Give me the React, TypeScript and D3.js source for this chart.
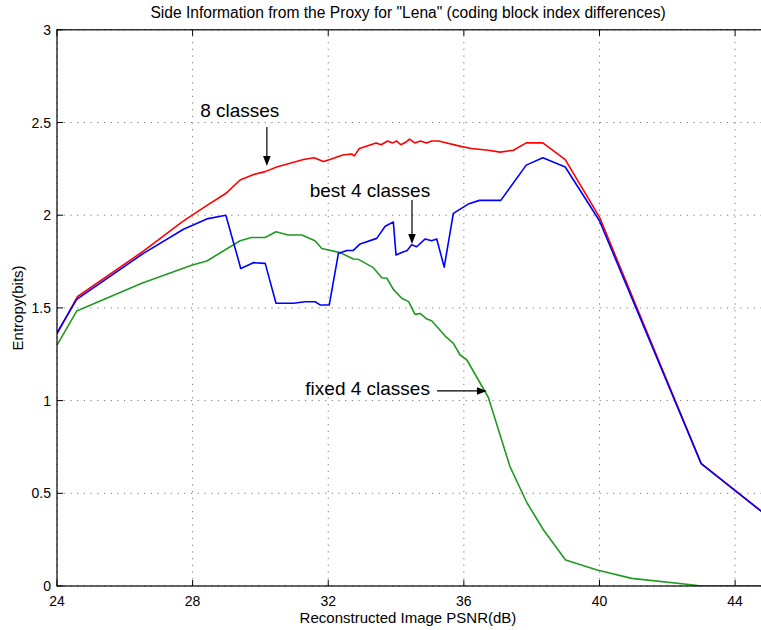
import React, { useEffect } from "react";
import * as d3 from "d3";

const W = 761;
const H = 630;

const xTicks = [24, 28, 32, 36, 40, 44];
const yTicks = [0, 0.5, 1, 1.5, 2, 2.5, 3];
const yTickLabels = ["0", "0.5", "1", "1.5", "2", "2.5", "3"];

const redX = [24, 24.6, 26.5, 27.7, 28.4, 29.0, 29.4, 29.8, 30.14, 30.48, 31.27, 31.58, 31.86, 32.05, 32.43, 32.69, 32.77, 32.92, 33.41, 33.56, 33.75, 33.9, 34.02, 34.14, 34.3, 34.4, 34.55, 34.72, 34.9, 35.05, 35.25, 35.94, 36.23, 36.72, 37.07, 37.46, 37.84, 38.33, 38.99, 40.0, 43.0, 45];
const redY = [1.36, 1.56, 1.8, 1.965, 2.05, 2.12, 2.19, 2.22, 2.235, 2.26, 2.3, 2.31, 2.29, 2.3, 2.325, 2.33, 2.32, 2.36, 2.39, 2.38, 2.4, 2.39, 2.4, 2.38, 2.395, 2.41, 2.39, 2.4, 2.39, 2.4, 2.4, 2.37, 2.36, 2.35, 2.34, 2.35, 2.39, 2.39, 2.3, 1.99, 0.66, 0.37];

const blueX = [24, 24.58, 26.55, 27.73, 28.42, 28.98, 29.42, 29.79, 30.14, 30.46, 30.97, 31.32, 31.61, 31.76, 32.03, 32.3, 32.55, 32.74, 32.94, 33.43, 33.68, 33.92, 34.0, 34.22, 34.32, 34.46, 34.61, 34.86, 35.05, 35.2, 35.42, 35.69, 36.13, 36.46, 37.09, 37.84, 38.33, 38.99, 40.0, 43.0, 45];
const blueY = [1.366, 1.546, 1.794, 1.924, 1.98, 2.0, 1.713, 1.744, 1.74, 1.525, 1.525, 1.533, 1.533, 1.516, 1.516, 1.794, 1.81, 1.81, 1.845, 1.875, 1.94, 1.963, 1.785, 1.803, 1.808, 1.84, 1.83, 1.872, 1.862, 1.872, 1.72, 2.01, 2.06, 2.08, 2.08, 2.27, 2.31, 2.26, 1.97, 0.66, 0.37];

const greenX = [24, 24.58, 26.5, 27.97, 28.42, 29.4, 29.74, 30.14, 30.46, 30.82, 31.22, 31.61, 31.81, 32.35, 32.74, 32.89, 33.33, 33.58, 33.73, 33.92, 34.17, 34.37, 34.56, 34.71, 34.91, 35.05, 35.45, 35.69, 35.89, 36.09, 36.72, 37.36, 37.86, 38.35, 39.0, 39.93, 40.95, 42.77, 43.0, 45];
const greenY = [1.3, 1.483, 1.633, 1.73, 1.753, 1.862, 1.88, 1.88, 1.911, 1.893, 1.893, 1.862, 1.82, 1.798, 1.764, 1.762, 1.717, 1.663, 1.66, 1.6, 1.552, 1.534, 1.465, 1.47, 1.44, 1.431, 1.348, 1.309, 1.246, 1.219, 1.018, 0.644, 0.449, 0.302, 0.14, 0.086, 0.041, 0.005, 0, 0];

const seriesColors = ["#ff0000", "#0000ff", "#229922"];

const annotations = [
  { text: "8 classes", tx: 29.39, ty: 2.567, ax0: 30.19, ay0: 2.476, ax1: 30.19, ay1: 2.265, anchor: "middle" },
  { text: "best 4 classes", tx: 33.23, ty: 2.136, ax0: 34.47, ay0: 2.082, ax1: 34.47, ay1: 1.845, anchor: "middle" },
  { text: "fixed 4 classes", tx: 35.0, ty: 1.068, ax0: 35.21, ay0: 1.052, ax1: 36.68, ay1: 1.052, anchor: "end" },
];

const FONT = "'Liberation Sans', Arial, Helvetica, sans-serif";

export default function App() {
  useEffect(() => {
    document.body.style.margin = "0";
  }, []);

  const left = 57;
  const right = 769;
  const top = 29.8;
  const bottom = 586;
  const x = d3.scaleLinear().domain([24, 45]).range([left, right]);
  const y = d3.scaleLinear().domain([0, 3]).range([bottom, top]);

  const line = d3
    .line<[number, number]>()
    .x((d) => x(d[0]))
    .y((d) => y(d[1]));

  const series = [
    { xs: redX, ys: redY },
    { xs: blueX, ys: blueY },
    { xs: greenX, ys: greenY },
  ];
  const order = [2, 0, 1];

  const tickLen = 6;

  const arrowHead = (x0: number, y0: number, x1: number, y1: number) => {
    const ang = Math.atan2(y1 - y0, x1 - x0);
    const L = 10;
    const Wd = 3.8;
    const bx = x1 - L * Math.cos(ang);
    const by = y1 - L * Math.sin(ang);
    const px = -Math.sin(ang) * Wd;
    const py = Math.cos(ang) * Wd;
    return `${x1},${y1} ${bx + px},${by + py} ${bx - px},${by - py}`;
  };

  return (
    <svg width={W} height={H} style={{ display: "block", background: "#fff" }} fontFamily={FONT}>
      <defs>
        <clipPath id="plotClip">
          <rect x={left} y={top} width={right - left} height={bottom - top} />
        </clipPath>
      </defs>
      <rect x={0} y={0} width={W} height={H} fill="#fff" />
      {/* grid */}
      <g stroke="#777" strokeWidth={1} strokeDasharray="1.2,5.5">
        {xTicks.map((t) => (
          <line key={"gx" + t} x1={x(t)} x2={x(t)} y1={bottom} y2={top} />
        ))}
        {yTicks.map((t) => (
          <line key={"gy" + t} x1={left} x2={right} y1={y(t)} y2={y(t)} />
        ))}
      </g>
      {/* ticks */}
      <g stroke="#000" strokeWidth={1}>
        {xTicks.map((t) => (
          <g key={"tx" + t}>
            <line x1={x(t)} x2={x(t)} y1={bottom} y2={bottom - tickLen} />
            <line x1={x(t)} x2={x(t)} y1={top} y2={top + tickLen} />
          </g>
        ))}
        {yTicks.map((t) => (
          <g key={"ty" + t}>
            <line x1={left} x2={left + tickLen} y1={y(t)} y2={y(t)} />
            <line x1={right} x2={right - tickLen} y1={y(t)} y2={y(t)} />
          </g>
        ))}
      </g>
      {/* lines */}
      <g clipPath="url(#plotClip)" fill="none" strokeWidth={1.6} strokeLinejoin="round">
        {order.map((i) => {
          const s = series[i];
          const pts = s.xs.map((v, k) => [v, s.ys[k]] as [number, number]);
          return <path key={"s" + i} d={line(pts) || ""} stroke={seriesColors[i]} />;
        })}
      </g>
      {/* box */}
      <rect x={left} y={top} width={right - left} height={bottom - top} fill="none" stroke="#000" strokeWidth={1.2} />
      {/* tick labels */}
      <g fontSize={14} fill="#000">
        {xTicks.map((t) => (
          <text key={"lx" + t} x={x(t)} y={bottom + 20} textAnchor="middle">
            {String(t)}
          </text>
        ))}
        {yTicks.map((t, i) => (
          <text key={"ly" + t} x={left - 6} y={y(t) + 5} textAnchor="end">
            {yTickLabels[i]}
          </text>
        ))}
      </g>
      {/* annotations */}
      <g>
        {annotations.map((a, i) => {
          const x0 = x(a.ax0);
          const y0 = y(a.ay0);
          const x1 = x(a.ax1);
          const y1 = y(a.ay1);
          const ang = Math.atan2(y1 - y0, x1 - x0);
          return (
            <g key={"an" + i}>
              <text x={x(a.tx)} y={y(a.ty) + 7} fontSize={19} textAnchor={a.anchor as any} fill="#000">
                {a.text}
              </text>
              <line x1={x0} y1={y0} x2={x1 - 9 * Math.cos(ang)} y2={y1 - 9 * Math.sin(ang)} stroke="#000" strokeWidth={1.2} />
              <polygon points={arrowHead(x0, y0, x1, y1)} fill="#000" />
            </g>
          );
        })}
      </g>
      {/* title & labels */}
      <text x={408} y={18} fontSize={15.6} textAnchor="middle" fill="#000">
        Side Information from the Proxy for "Lena" (coding block index differences)
      </text>
      <text x={408} y={623} fontSize={15} textAnchor="middle" fill="#000">
        Reconstructed Image PSNR(dB)
      </text>
      <text transform={`translate(23,${(top + bottom) / 2}) rotate(-90)`} fontSize={15} textAnchor="middle" fill="#000">
        Entropy(bits)
      </text>
    </svg>
  );
}
